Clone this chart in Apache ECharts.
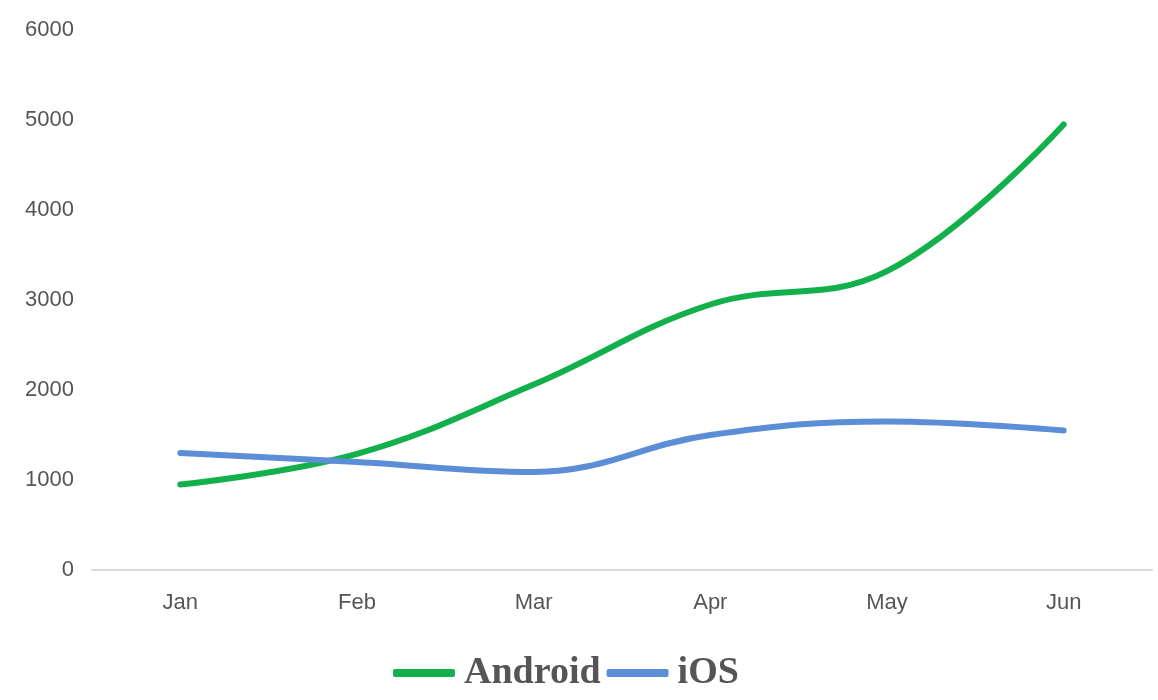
<!DOCTYPE html>
<html><head><meta charset="utf-8">
<script src="https://cdn.jsdelivr.net/npm/echarts@6/dist/echarts.min.js"></script>
<style>html,body{margin:0;padding:0;background:#fff}#c{width:1158px;height:700px}</style>
</head><body><div id="c"></div>
<script>
const categories = ['Jan','Feb','Mar','Apr','May','Jun'];
const android = [950, 1290, 2060, 2950, 3320, 4950];
const ios = [1300, 1200, 1090, 1500, 1650, 1550];
const yTicks = [0, 1000, 2000, 3000, 4000, 5000, 6000];

const chart = echarts.init(document.getElementById('c'));
chart.setOption({
  animation: false,
  grid: {left: 92, right: 6, top: 30, bottom: 130},
  legend: {
    bottom: 3, left: 388, itemWidth: 62, itemHeight: 8, itemGap: 6,
    textStyle: {fontFamily: 'Liberation Serif', fontWeight: 'bold', fontSize: 38, color: '#555',
                padding: [0, 0, 0, 4]},
    data: [{name: 'Android', icon: 'roundRect'}, {name: 'iOS', icon: 'roundRect'}]
  },
  xAxis: {
    type: 'category', data: categories, boundaryGap: true,
    axisLine: {lineStyle: {color: '#d9d9d9', width: 2}},
    axisTick: {show: false},
    axisLabel: {fontFamily: 'Liberation Sans', fontSize: 22, color: '#555', margin: 22}
  },
  yAxis: {
    type: 'value', min: yTicks[0], max: yTicks[yTicks.length-1], interval: 1000,
    splitLine: {show: false},
    axisLine: {show: false}, axisTick: {show: false},
    axisLabel: {fontFamily: 'Liberation Sans', fontSize: 22, color: '#555', margin: 18,
                formatter: v => String(v)}
  },
  series: [
    {name: 'Android', type: 'line', data: android, smooth: 0.4, showSymbol: false,
     lineStyle: {width: 6, color: '#12B04A', cap: 'round'}, itemStyle: {color: '#12B04A'}},
    {name: 'iOS', type: 'line', data: ios, smooth: 0.4, showSymbol: false,
     lineStyle: {width: 6, color: '#5B8ED6', cap: 'round'}, itemStyle: {color: '#5B8ED6'}}
  ]
});
</script></body></html>
